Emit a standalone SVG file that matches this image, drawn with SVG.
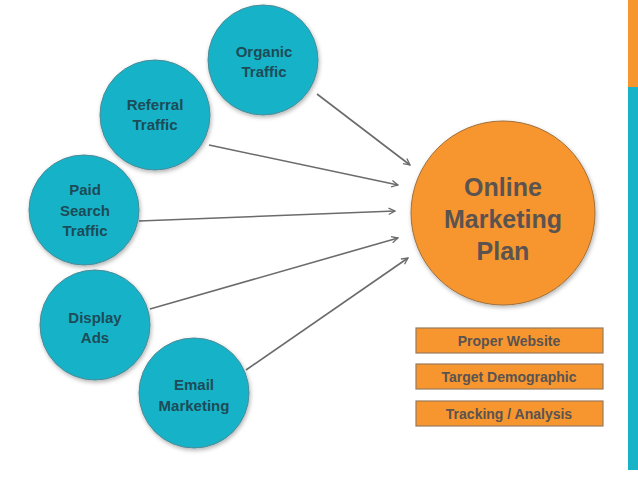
<svg xmlns="http://www.w3.org/2000/svg" width="638" height="479" viewBox="0 0 638 479">
<defs>
<marker id="ah" viewBox="0 0 10 10" refX="9" refY="5" markerWidth="8" markerHeight="8" orient="auto" markerUnits="userSpaceOnUse">
<path d="M1,1 L9,5 L1,9" fill="none" stroke="#6b6b6b" stroke-width="1.6"/>
</marker>
<filter id="sh" x="-20%" y="-20%" width="140%" height="140%"><feDropShadow dx="1" dy="2" stdDeviation="2" flood-color="#000" flood-opacity="0.3"/></filter>
</defs>
<style>
.c{fill:#19b3c8;stroke:#4a8a96;stroke-width:1;filter:url(#sh)}
.ct{font-family:"Liberation Sans",Arial,sans-serif;font-weight:bold;font-size:15px;fill:#1d4b57;text-anchor:middle}
.o{fill:#f7962f;stroke:#a0703a;stroke-width:1;filter:url(#sh)}
.ot{font-family:"Liberation Sans",Arial,sans-serif;font-weight:bold;fill:#5a5350;text-anchor:middle}
.b{fill:#f7962f;stroke:#9a7a5a;stroke-width:1.2}
.l{stroke:#6b6b6b;stroke-width:1.6;fill:none;marker-end:url(#ah)}
</style>
<rect width="638" height="479" fill="#fff"/>
<rect x="628" y="0" width="10" height="87" fill="#f7962f"/>
<rect x="628" y="87" width="10" height="383" fill="#19b3c8"/>
<g id="connectors">
<line class="l" x1="317" y1="94" x2="410" y2="165"/>
<line class="l" x1="209" y1="145" x2="398" y2="185"/>
<line class="l" x1="139" y1="221" x2="395" y2="211"/>
<line class="l" x1="150" y1="309" x2="398" y2="238"/>
<line class="l" x1="246" y1="370" x2="408" y2="258"/>
</g>
<g id="organic"><circle class="c" cx="263" cy="60" r="55"/><text class="ct" x="264" y="57">Organic</text><text class="ct" x="264" y="77">Traffic</text></g>
<g id="referral"><circle class="c" cx="155" cy="115" r="55"/><text class="ct" x="155" y="110">Referral</text><text class="ct" x="155" y="130">Traffic</text></g>
<g id="paid"><circle class="c" cx="84" cy="210" r="55"/><text class="ct" x="85" y="195">Paid</text><text class="ct" x="85" y="216">Search</text><text class="ct" x="85" y="236">Traffic</text></g>
<g id="display"><circle class="c" cx="95" cy="325" r="55"/><text class="ct" x="95" y="323">Display</text><text class="ct" x="95" y="343">Ads</text></g>
<g id="email"><circle class="c" cx="194" cy="393" r="55"/><text class="ct" x="194" y="390">Email</text><text class="ct" x="194" y="411">Marketing</text></g>
<g id="plan"><circle class="o" cx="503" cy="213" r="92"/><text class="ot" font-size="25" x="503" y="196">Online</text><text class="ot" font-size="25" x="503" y="228">Marketing</text><text class="ot" font-size="25" x="503" y="260">Plan</text></g>
<g id="website"><rect class="b" x="416" y="328" width="187" height="25"/><text class="ot" font-size="14" x="509" y="346">Proper Website</text></g>
<g id="demographic"><rect class="b" x="416" y="364" width="187" height="25"/><text class="ot" font-size="14" x="509" y="382">Target Demographic</text></g>
<g id="tracking"><rect class="b" x="416" y="401" width="187" height="25"/><text class="ot" font-size="14" x="509" y="419">Tracking / Analysis</text></g>
</svg>
